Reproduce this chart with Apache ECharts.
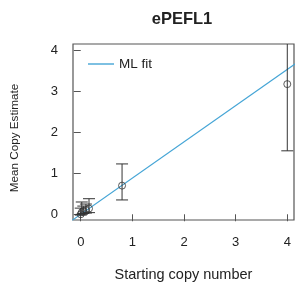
<!DOCTYPE html>
<html><head><meta charset="utf-8">
<script src="https://cdn.jsdelivr.net/npm/echarts@6/dist/echarts.min.js"></script>
<style>html,body{margin:0;padding:0;background:#fff}#c{width:295px;height:291px}</style>
</head><body><div id="c"></div>
<script>
const startCopy = [0, 0.02, 0.05, 0.1, 0.16, 0.8, 4];
const meanCopy = [0.0, 0.05, 0.08, 0.1, 0.14, 0.7, 3.18];
const lowErr = [-0.02, 0.0, 0.02, 0.03, 0.04, 0.35, 1.55];
const highErr = [0.15, 0.3, 0.2, 0.25, 0.38, 1.23, 4.5];
const fitX = [-0.2, 4.2];
const fitSlope = 0.885;
const xTicks = [0, 1, 2, 3, 4];
const yTicks = [0, 1, 2, 3, 4];

const chart = echarts.init(document.getElementById('c'), null, {renderer: 'canvas'});
const txt = '#222';
const font = 'Liberation Sans, Arial, sans-serif';
const errData = startCopy.map((x, i) => [x, lowErr[i], highErr[i]]);
chart.setOption({
  animation: false,
  title: {text: 'ePEFL1', left: 177, top: 6, textAlign: 'center',
    textStyle: {fontFamily: font, fontSize: 16.5, fontWeight: 'bold', color: txt}},
  legend: {left: 83, top: 52, itemWidth: 26, itemHeight: 1.4, itemGap: 8,
    textStyle: {fontFamily: font, fontSize: 13.5, color: txt},
    data: [{name: 'ML fit', icon: 'rect'}]},
  grid: {left: 73, right: 1, top: 44, bottom: 71, show: true, borderColor: '#555', borderWidth: 1.2, backgroundColor: 'transparent'},
  xAxis: {type: 'value', min: -0.15, max: 4.13,
    name: 'Starting copy number', nameLocation: 'middle', nameGap: 47,
    nameTextStyle: {fontFamily: font, fontSize: 14.5, color: txt},
    axisLine: {show: false}, splitLine: {show: false},
    axisTick: {show: true, length: 7, customValues: xTicks, lineStyle: {color: '#555'}},
    axisLabel: {customValues: xTicks, fontFamily: font, fontSize: 13, color: txt, margin: 16}},
  yAxis: {type: 'value', min: -0.14, max: 4.16,
    name: 'Mean Copy Estimate', nameLocation: 'middle', nameGap: 52, nameRotate: 90,
    nameTextStyle: {fontFamily: font, fontSize: 11.7, color: txt, padding: [0, 12, 0, 0]},
    axisLine: {show: false}, splitLine: {show: false},
    axisTick: {show: true, length: 7, customValues: yTicks, lineStyle: {color: '#555'}},
    axisLabel: {customValues: yTicks, fontFamily: font, fontSize: 13, color: txt, margin: 15}},
  series: [
    {name: 'ML fit', type: 'line', symbol: 'none', clip: true,
     data: fitX.map(x => [x, x * fitSlope]),
     lineStyle: {color: '#45a5d6', width: 1.2}, itemStyle: {color: '#45a5d6'}, z: 2},
    {name: 'err', type: 'custom', clip: true, data: errData, z: 3,
     renderItem: function (params, api) {
       const x = api.value(0);
       const lo = api.coord([x, api.value(1)]);
       const hi = api.coord([x, api.value(2)]);
       const hw = 6;
       const st = {stroke: '#333', lineWidth: 1, fill: null};
       return {type: 'group', children: [
         {type: 'line', shape: {x1: lo[0], y1: lo[1], x2: hi[0], y2: hi[1]}, style: st},
         {type: 'line', shape: {x1: lo[0] - hw, y1: lo[1], x2: lo[0] + hw, y2: lo[1]}, style: st},
         {type: 'line', shape: {x1: hi[0] - hw, y1: hi[1], x2: hi[0] + hw, y2: hi[1]}, style: st}
       ]};
     }},
    {name: 'pts', type: 'scatter', symbol: 'circle', symbolSize: 7, z: 4,
     data: startCopy.map((x, i) => [x, meanCopy[i]]),
     itemStyle: {color: 'rgba(0,0,0,0)', borderColor: '#333', borderWidth: 1}}
  ]
});
</script></body></html>
